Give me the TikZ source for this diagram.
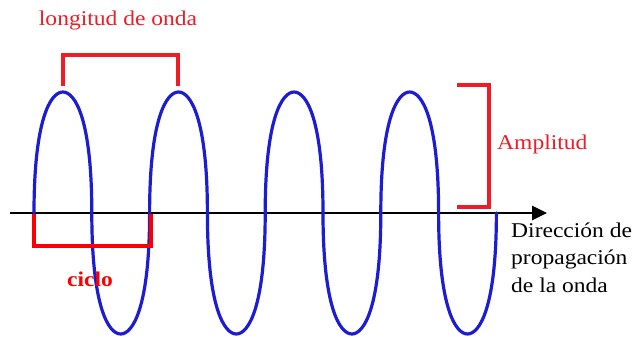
\documentclass[tikz,border=0pt]{standalone}
\usepackage{fontspec}
\setmainfont{Liberation Serif}
\usetikzlibrary{arrows.meta}
\definecolor{waveblue}{RGB}{28,28,210}
\definecolor{lblred}{RGB}{238,28,36}
\definecolor{cycred}{RGB}{250,0,0}
\tikzset{
  lbl/.style={inner sep=0pt, font=\fontsize{21}{25}\selectfont, xscale=1.12},
  bracket/.style={draw=lblred, line width=3.1pt, line join=miter},
  wave/.style={draw=waveblue, line width=3.2pt, line cap=round},
}
\begin{document}
\begin{tikzpicture}[x=1pt,y=-1pt]
\useasboundingbox (0,0) rectangle (634,339);
% axis
\coordinate (axL) at (10,213);
\coordinate (axR) at (547,213);
\draw[line width=2.8pt, -{Triangle[length=15pt,width=14pt]}] (axL) -- (axR);
% wave
\def\h{57.8}\def\q{28.9}
\draw[wave] (34,213)
  \foreach \i in {0,...,3}{
    .. controls ({34+115.6*\i},{213-0.78*121}) and ({34+115.6*\i+\q-0.42*\q},92) .. ({34+115.6*\i+\q},92)
    .. controls ({34+115.6*\i+\q+0.42*\q},92) and ({34+115.6*\i+\h},{213-0.78*121}) .. ({34+115.6*\i+\h},213)
    .. controls ({34+115.6*\i+\h},{213+0.78*121}) and ({34+115.6*\i+\h+\q-0.42*\q},334) .. ({34+115.6*\i+\h+\q},334)
    .. controls ({34+115.6*\i+\h+\q+0.42*\q},334) and ({34+115.6*\i+2*\h},{213+0.78*121}) .. ({34+115.6*\i+2*\h},213)
  };
% wavelength bracket
\coordinate (wl1) at (63,86);
\coordinate (wl2) at (178,86);
\draw[bracket] (wl1) -- (63,55) -- (178,55) -- (wl2);
\node[lbl, text=lblred, anchor=base] (wlt) at (118,26) {longitud de onda};
% amplitude bracket
\coordinate (am1) at (457,85);
\coordinate (am2) at (457,207);
\draw[bracket] (am1) -- (489,85) -- (489,207) -- (am2);
\node[lbl, text=lblred, anchor=base west] (amt) at (497,150) {Amplitud};
% cycle bracket
\coordinate (cy1) at (34,214);
\coordinate (cy2) at (151,214);
\draw[draw=cycred, line width=4.2pt] (cy1) -- (34,246) -- (151,246) -- (cy2);
\node[lbl, text=cycred, font=\fontsize{21}{25}\selectfont\bfseries, anchor=base] (cyt) at (90,286) {ciclo};
% direction text
\node[lbl, anchor=base west] (d1) at (511,237) {Dirección de};
\node[lbl, anchor=base west] (d2) at (511,264) {propagación};
\node[lbl, anchor=base west] (d3) at (511,292) {de la onda};
\end{tikzpicture}
\end{document}
